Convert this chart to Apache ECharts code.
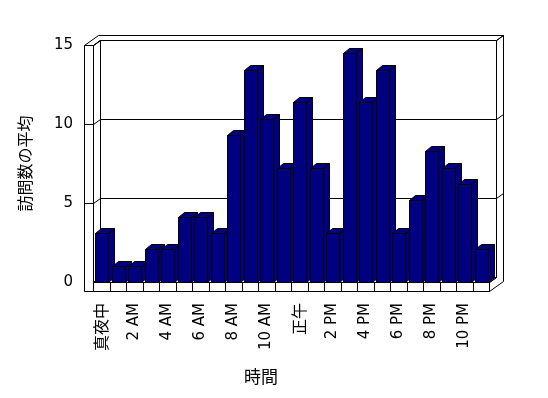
<!DOCTYPE html>
<html>
<head>
<meta charset="utf-8">
<script src="https://cdn.jsdelivr.net/npm/echarts@6/dist/echarts.min.js"></script>
<style>html,body{margin:0;padding:0;background:#fff;}#c{width:548px;height:398px;}</style>
</head>
<body>
<div id="c"></div>
<script>
const categories = ['真夜中','1 AM','2 AM','3 AM','4 AM','5 AM','6 AM','7 AM','8 AM','9 AM','10 AM','11 AM',
  '正午','1 PM','2 PM','3 PM','4 PM','5 PM','6 PM','7 PM','8 PM','9 PM','10 PM','11 PM'];
const visits = [3.1, 1.03, 1.03, 2.07, 2.07, 4.13, 4.13, 3.1, 9.3, 13.4, 10.3, 7.23,
  11.37, 7.23, 3.1, 14.47, 11.37, 13.4, 3.1, 5.17, 8.27, 7.23, 6.2, 2.07];
const yTicks = [0, 5, 10, 15];
const xName = '時間';
const yName = '訪問数の平均';

const NAVY = '#000080';
const DX = 7, DY = -5;      // depth offset of the walls
const WALL = 9, FLOOR = 9;  // wall / floor thickness
const BDX = 6, BDY = -5;    // depth of bars
const p = v => Math.round(v) + 0.5;

function renderFrame(params, api) {
  const bw = api.size([1, 0])[0];
  const X0 = p(api.coord([0, 0])[0] - bw / 2);
  const X1 = p(api.coord([categories.length - 1, 0])[0] + bw / 2);
  const Y0 = p(api.coord([0, 0])[1]);
  const Yt = p(api.coord([0, yTicks[yTicks.length - 1]])[1]);
  const L = X0 - WALL;
  const children = [];
  const poly = (pts, fill) => children.push({type: 'polygon', shape: {points: pts},
    style: {fill: fill || '#fff', stroke: '#000', lineWidth: 1}});
  const line = (a, b) => children.push({type: 'line', shape: {x1: a[0], y1: a[1], x2: b[0], y2: b[1]},
    style: {stroke: '#000', lineWidth: 1}});
  poly([[L, Y0 + FLOOR], [L, Yt], [L + 2 * DX, Yt + 2 * DY], [X1 + 2 * DX, Yt + 2 * DY],
        [X1 + 2 * DX, Y0 + FLOOR + 2 * DY], [X1, Y0 + FLOOR]]);
  poly([[X0 + DX, Yt + DY], [X1 + DX, Yt + DY], [X1 + DX, Y0 + DY], [X0 + DX, Y0 + DY]]);
  poly([[X0, Yt], [X0 + DX, Yt + DY], [X0 + DX, Y0 + DY], [X0, Y0]]);
  poly([[X0, Y0], [X0 + DX, Y0 + DY], [X1 + DX, Y0 + DY], [X1, Y0]]);
  poly([[L, Yt], [X0, Yt], [X0, Y0], [X1, Y0], [X1, Y0 + FLOOR], [L, Y0 + FLOOR]]);
  line([X0, Yt], [X0 + DX, Yt + DY]);
  line([X1, Y0], [X1 + DX, Y0 + DY]);
  line([X1 + DX, Yt + DY], [X1 + 2 * DX, Yt + 2 * DY]);
  for (let i = 0; i <= categories.length; i++) {
    const x = p(api.coord([0, 0])[0] - bw / 2 + i * bw);
    line([x, Y0], [x, Y0 + FLOOR]);
  }
  yTicks.forEach(t => {
    if (t === 0) return;
    const y = p(api.coord([0, t])[1]);
    line([L, y], [X0, y]);
    line([X0, y], [X0 + DX, y + DY]);
    line([X0 + DX, y + DY], [X1 + DX, y + DY]);
    line([X1 + DX, y + DY], [X1 + 2 * DX, y + 2 * DY]);
  });
  return {type: 'group', children: children};
}

function renderBar(params, api) {
  const i = api.value(0), v = api.value(1);
  const bw = api.size([1, 0])[0];
  const c = api.coord([i, v]);
  const b = api.coord([i, 0]);
  const xl = p(c[0] - bw / 2 + bw * 0.145);
  const xr = p(c[0] - bw / 2 + bw * 0.145 + bw * 0.765);
  const yt = p(c[1]);
  const yb = p(b[1]);
  const st = {fill: NAVY, stroke: '#000', lineWidth: 1};
  return {type: 'group', children: [
    {type: 'polygon', shape: {points: [[xr, yt], [xr + BDX, yt + BDY], [xr + BDX, yb + BDY], [xr, yb]]}, style: st},
    {type: 'polygon', shape: {points: [[xl, yt], [xl + BDX, yt + BDY], [xr + BDX, yt + BDY], [xr, yt]]}, style: st},
    {type: 'polygon', shape: {points: [[xl, yt], [xr, yt], [xr, yb], [xl, yb]]}, style: st}
  ]};
}

const chart = echarts.init(document.getElementById('c'), null, {renderer: 'canvas'});
chart.setOption({
  animation: false,
  backgroundColor: '#fff',
  grid: {left: 93, right: 59, top: 45, bottom: 116, containLabel: false},
  xAxis: {
    type: 'category', data: categories,
    axisLine: {show: false}, axisTick: {show: false}, splitLine: {show: false},
    axisLabel: {
      interval: 1, rotate: 90, margin: 21, color: '#000',
      fontFamily: 'DejaVu Sans', fontSize: 15,
      formatter: v => /[^\x00-\x7f]/.test(v) ? '{cjk|' + v + '}' : v,
      rich: {cjk: {fontFamily: 'Noto Sans CJK JP', fontSize: 16, color: '#000'}}
    },
    name: xName, nameLocation: 'middle', nameGap: 86,
    nameTextStyle: {fontFamily: 'Noto Sans CJK JP', fontSize: 17, color: '#000', padding: [0, 60, 0, 0]}
  },
  yAxis: {
    type: 'value', min: 0, max: 15, interval: 5,
    axisLine: {show: false}, axisTick: {show: false}, splitLine: {show: false},
    axisLabel: {margin: 20, color: '#000', fontFamily: 'DejaVu Sans', fontSize: 15},
    name: yName, nameLocation: 'middle', nameGap: 60,
    nameTextStyle: {fontFamily: 'Noto Sans CJK JP', fontSize: 16, color: '#000'}
  },
  series: [
    {type: 'custom', z: 1, silent: true, clip: false, renderItem: renderFrame, data: [[0, 0]]},
    {type: 'custom', z: 2, clip: false, renderItem: renderBar,
     data: visits.map((v, i) => [i, v])}
  ]
});
</script>
</body>
</html>
